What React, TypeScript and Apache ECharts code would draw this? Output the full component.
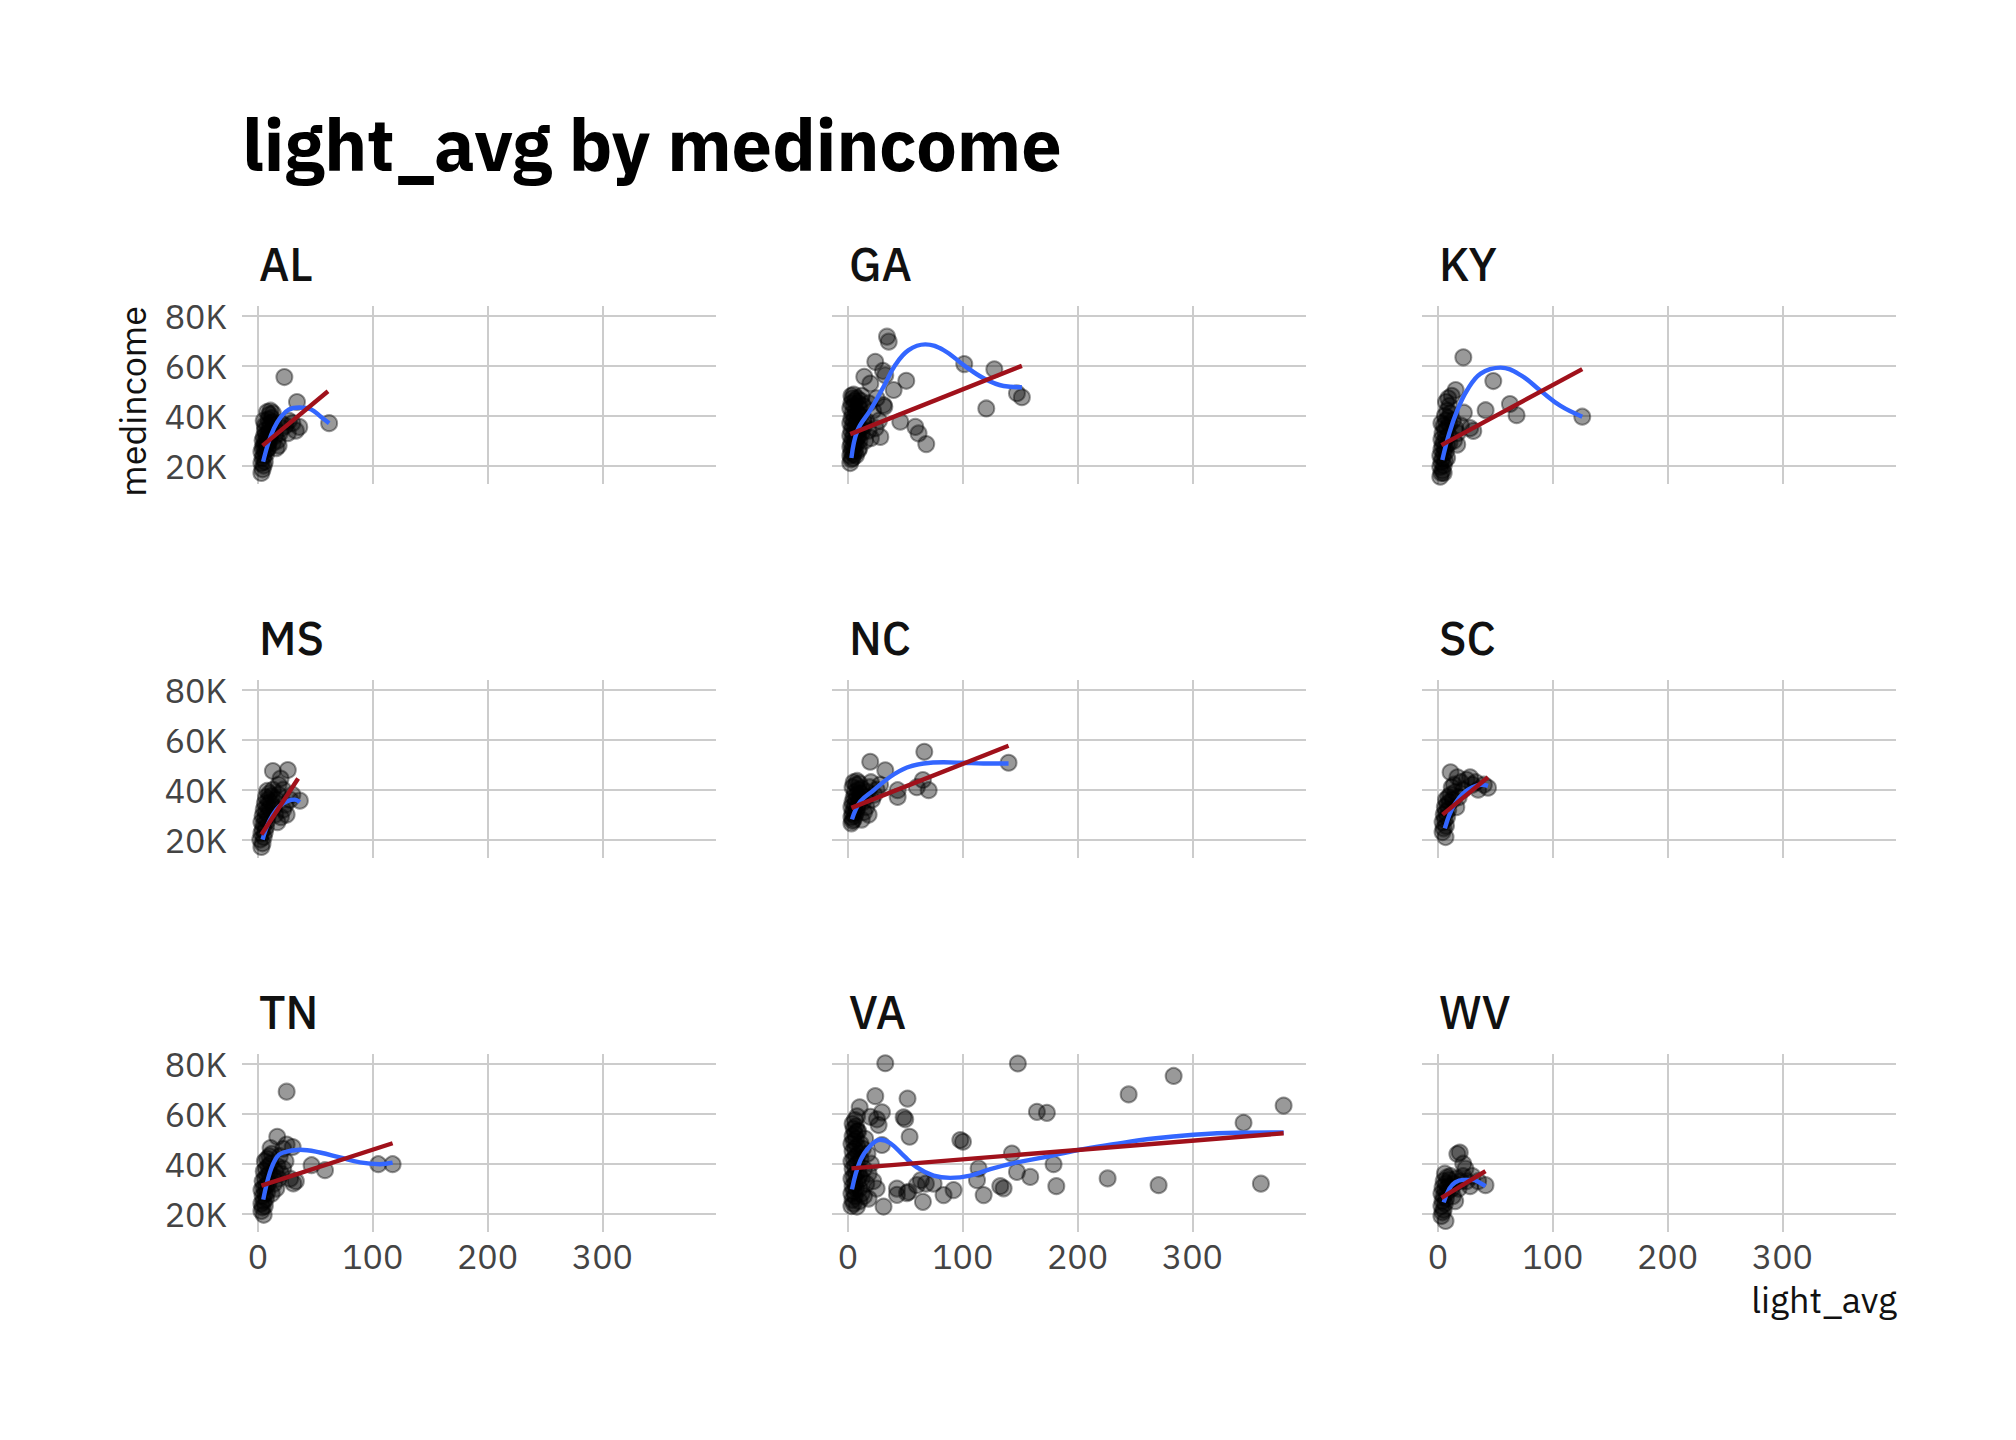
import React, { useEffect, useRef } from 'react';
import * as echarts from 'echarts';

// ---------------- data (x = light_avg, y = medincome in thousands) ----------------
const STATES = ['AL', 'GA', 'KY', 'MS', 'NC', 'SC', 'TN', 'VA', 'WV'];
const X_TICKS = [0, 100, 200, 300];
const Y_TICKS = [20, 40, 60, 80];
const X_MIN = -13.9;
const X_MAX = 399;
const Y_MIN = 12.6;
const Y_MAX = 84;

const AL_POINTS = [
  [3, 17], [4, 18.5], [5, 20], [3, 21], [6, 21.5], [4, 23], [5, 24], [7, 24.5], [3, 25.5], [6, 26],
  [8, 26.5], [4, 27], [5, 28], [7, 28.5], [9, 29], [6, 29.5], [10, 30], [8, 31], [5, 31.5], [11, 32],
  [7, 32.5], [9, 33], [12, 33.5], [6, 34], [10, 35], [8, 36], [11, 37], [13, 37.5], [9, 38.5], [12, 39],
  [10, 40.5], [8, 41.5], [11, 42], [13, 41], [14, 35], [15, 32], [17, 30], [19, 33], [21, 35], [24, 36],
  [27, 38], [30, 37], [23, 55.5], [34, 45.5], [36, 35.5], [33, 34], [62, 37], [16, 27], [13, 29], [18, 28],
  [20, 37], [26, 33], [4, 30], [6, 36], [9, 27], [5, 38],
];
const AL_LOESS = [[4.5, 21.5], [9, 29], [14, 35], [20, 39.5], [27, 42.5], [36, 43.3], [46, 42.6], [55, 39.5], [62, 37]];
const AL_LM = [[4, 28], [61, 49.8]];

const GA_POINTS = [
  [2, 21], [3, 22.5], [4, 23], [2, 24], [5, 24.5], [3, 25.5], [6, 26], [4, 27], [2, 27.5], [5, 28],
  [7, 28.5], [3, 29], [6, 30], [4, 31], [8, 31], [2, 32], [5, 32.5], [7, 33], [3, 34], [6, 35],
  [9, 35], [4, 36], [2, 37], [5, 38], [8, 38], [3, 39], [6, 40], [4, 41], [7, 42], [2, 43],
  [5, 44], [3, 45], [6, 46], [4, 47], [8, 47], [5, 48.5], [10, 30], [12, 33], [14, 36], [11, 40],
  [13, 44], [10, 27], [15, 30], [18, 34], [16, 38], [20, 31], [9, 45], [12, 48],
  [7, 24], [9, 26], [8, 41], [10, 43], [11, 35], [13, 39], [9, 32], [7, 37], [11, 46], [3, 48],
  [34, 71.7], [35.5, 69.7], [23.8, 61.6], [30.5, 58], [32.5, 56.2], [14.2, 55.6], [19.5, 52.9], [50.8, 54],
  [39.8, 50.3], [31, 44.3], [45.6, 37.6], [58.7, 35.5], [61.5, 32.9], [68.2, 28.6], [28.2, 31.5],
  [101.3, 60.7], [127.5, 58.6], [120.5, 42.9], [147.2, 49], [151.5, 47.4], [25, 47], [22, 42], [27, 38],
  [18, 45], [24, 35], [31.7, 43.6],
];
const GA_LOESS = [
  [3, 23], [8.4, 34.2], [19.5, 42.2], [31, 51.6], [41.2, 60.3], [52.8, 66.3], [67.4, 68.6], [83.3, 66.3],
  [100.8, 60.3], [118.2, 55], [135.6, 51.9], [151.5, 51.4],
];
const GA_LM = [[2, 32.6], [151.5, 60]];

const KY_POINTS = [
  [2, 15.5], [3, 17], [4, 18], [2, 19.5], [5, 20], [3, 21.5], [6, 22], [4, 23], [2, 24], [5, 25],
  [7, 25.5], [3, 26.5], [6, 27], [4, 28], [8, 28.5], [5, 29.5], [3, 30.5], [7, 31], [9, 32], [4, 33],
  [6, 34], [8, 35], [5, 36], [10, 36.5], [3, 37], [7, 38], [9, 39], [6, 40], [11, 41], [8, 42],
  [10, 44], [7, 45.5], [9, 47], [12, 48], [13, 38], [15, 35], [17, 33], [5, 17], [8, 23], [10, 29],
  [22.1, 63.4], [48.2, 53.9], [41.5, 42.2], [62.7, 44.7], [68.5, 40.2], [30.8, 33.9], [125.7, 39.6],
  [15.4, 50.3], [22.6, 41.2], [16.8, 28.4], [20, 36], [14, 30], [28, 35],
];
const KY_LOESS = [
  [3.8, 22.2], [9.6, 32.6], [16.8, 42.1], [25.5, 50.3], [37.2, 56.9], [54.6, 59.3], [72, 56.3],
  [89.4, 50], [106.8, 43.9], [125.7, 39.6],
];
const KY_LM = [[3, 28.2], [125.7, 58.7]];

const MS_POINTS = [
  [3, 17], [4, 18.5], [2, 20], [5, 21], [3, 22.5], [6, 23], [4, 24], [7, 25], [5, 26], [3, 27],
  [8, 27.5], [6, 28.5], [4, 29.5], [9, 30], [7, 31], [5, 32], [10, 32.5], [8, 33.5], [6, 34.5], [11, 35],
  [9, 36], [7, 37], [12, 37.5], [10, 38.5], [8, 39.5], [13, 40], [14, 33], [16, 36], [18, 38], [15, 30],
  [17, 27], [20, 29], [22, 32], [24, 34],
  [13, 47.5], [26, 47.9], [19.7, 44.5], [36.5, 35.6], [22, 40], [28, 36], [30, 38], [25, 30], [18, 42],
];
const MS_LOESS = [[4, 20], [8, 25.5], [13, 30], [19, 33.5], [26, 35.5], [32, 36], [36.5, 35]];
const MS_LM = [[3, 22], [35, 44.5]];

const NC_POINTS = [
  [3, 26.5], [4, 27.5], [5, 28], [3, 29], [6, 29.5], [4, 30.5], [7, 31], [5, 32], [8, 32.5], [3, 33],
  [6, 34], [9, 34.5], [4, 35], [7, 36], [10, 36.5], [5, 37], [8, 38], [11, 38.5], [6, 39], [9, 40],
  [12, 40.5], [4, 41], [7, 42], [10, 42.5], [5, 43], [8, 43.5], [13, 35], [15, 37], [17, 39], [19, 41],
  [14, 31], [16, 33], [18, 30], [21, 36], [23, 38], [20, 43], [12, 28],
  [66.5, 55.2], [19.4, 51.2], [32.5, 47.8], [43.3, 39.8], [43.3, 37.1], [65.3, 43.9], [70.3, 39.8],
  [139.9, 50.8], [60, 41], [25, 40], [28, 42],
];
const NC_LOESS = [
  [3.5, 28.1], [10.7, 35.2], [22.4, 39.8], [36.9, 45.2], [51.4, 48.9], [65.9, 50.5], [83.3, 51],
  [100.8, 50.8], [118, 50.5], [139.9, 50.5],
];
const NC_LM = [[3, 32.7], [139.9, 57.6]];

const SC_POINTS = [
  [6.6, 21], [4, 23], [5, 24.5], [7, 25.5], [4, 27], [6, 28], [8, 29], [5, 30], [7, 31], [9, 32],
  [6, 33], [8, 34], [10, 35], [7, 36], [9, 37], [11, 38], [13, 36], [15, 39], [12, 41], [14, 42],
  [11, 47], [17, 45], [20, 43], [22, 40], [25, 44], [28, 45], [30, 42], [33, 43], [35, 40], [43.6, 40.8],
  [40, 42], [18, 37], [16, 33],
];
const SC_LOESS = [[6, 24.5], [10, 30], [15, 34.5], [22, 38.5], [30, 41], [38, 42], [43.6, 41.5]];
const SC_LM = [[4, 30], [43.6, 45]];

const TN_POINTS = [
  [5, 19.5], [3, 21], [4, 22.5], [6, 23], [3, 24], [5, 25], [7, 26], [4, 27], [6, 28], [8, 28.5],
  [3, 29.5], [5, 30.5], [7, 31], [9, 32], [4, 33], [6, 34], [8, 35], [10, 36], [5, 37], [7, 38],
  [9, 39], [11, 40], [6, 41], [8, 42], [10, 43], [12, 44], [13, 35], [15, 37], [17, 39], [14, 32],
  [16, 30], [18, 34], [20, 36], [22, 38], [24, 41], [12, 28], [19, 43],
  [25, 68.9], [16.8, 50.8], [25, 47.7], [30.2, 46.7], [46.7, 39.4], [58.4, 37.4], [104.8, 39.8],
  [117.3, 39.8], [30.8, 32.1], [11, 46.3], [28, 34], [33, 33], [22, 46],
];
const TN_LOESS = [
  [4.6, 25.6], [10.4, 36.5], [16.2, 42.5], [22, 44.5], [36.6, 45.6], [54, 44.5], [71.4, 42.5],
  [88.8, 40.5], [106.3, 39.8], [117.3, 40.4],
];
const TN_LM = [[3, 31.2], [117.3, 48.2]];

const VA_POINTS = [
  [3, 23], [5, 24], [4, 25.5], [6, 27], [3, 28], [5, 29], [7, 30], [4, 31], [6, 32], [8, 33],
  [3, 34], [5, 35], [7, 36], [9, 37], [4, 38], [6, 39], [8, 40], [3, 41], [5, 42], [7, 43],
  [9, 44], [4, 45], [6, 46], [8, 47], [3, 48], [5, 49], [7, 50], [4, 51], [6, 52], [8, 53],
  [5, 54], [7, 55], [4, 56], [6, 57.5], [8, 59], [10, 30], [12, 34], [14, 38], [11, 42], [13, 46],
  [15, 50], [12, 28], [16, 32], [18, 36], [10, 25], [14, 27], [17, 44], [10, 35], [11, 48], [9, 53],
  [32.5, 80.3], [148, 80.2], [283.7, 75.2], [244.5, 67.8], [379.5, 63.3], [344.6, 56.4], [164.6, 60.8],
  [173.3, 60.4], [23.8, 67.1], [51.9, 66.1], [29.6, 60.6], [48.5, 58.6], [49.9, 57.8], [26.7, 55.5],
  [53.7, 50.8], [10.2, 62.6], [19.5, 58.8], [29.6, 47.5], [97.9, 49.5], [100.2, 48.8], [113.8, 38.1],
  [112.4, 33.4], [118.2, 27.4], [142.8, 44.1], [147.2, 36.7], [158.8, 34.7], [179.1, 39.8], [181.5, 31],
  [226.2, 34.1], [270.6, 31.4], [359.7, 32], [132.7, 31], [135.6, 30.1], [92, 29.4], [83.3, 27.4],
  [65.3, 24.7], [31, 22.8], [42.7, 30], [52.8, 28.7], [60, 31.4], [74.6, 32], [7.8, 22.8], [20, 40],
  [22, 33], [25, 30], [18, 26], [63.6, 33.4], [67.9, 32], [42.7, 27.5], [51.4, 28.2], [25.3, 57.8],
];
const VA_LOESS = [
  [3.5, 29.7], [10.7, 41.2], [19.5, 47.2], [28.2, 49.6], [36.9, 48.2], [48.5, 43.2], [60.1, 38.5],
  [74.6, 35.2], [89.1, 34.3], [106.5, 35.2], [124, 37.8], [147.2, 40.5], [170.4, 42.5], [199.4, 45.4],
  [231.3, 47.8], [266.1, 50.1], [301, 51.6], [338.7, 52.4], [379.5, 52.5],
];
const VA_LM = [[3, 38.1], [379.5, 52.2]];

const WV_POINTS = [
  [6.6, 17], [3, 19], [4, 20.5], [5, 21.5], [3, 23], [6, 24], [4, 25], [7, 26], [5, 27], [3, 28],
  [8, 28.5], [6, 29.5], [4, 30.5], [9, 31], [7, 32], [5, 33], [10, 33.5], [8, 34.5], [11, 35], [6, 36],
  [12, 30], [14, 32], [16, 34], [13, 27], [15, 25], [18, 30], [20, 33], [22, 35], [25, 33], [28, 31],
  [16.9, 43.9], [22, 40], [19, 44.5], [24, 38], [41.4, 31.4], [35, 33], [30, 35],
];
const WV_LOESS = [[5, 24.5], [10, 30], [15, 32.5], [22, 33.5], [30, 33.5], [36, 32.5], [41.4, 31]];
const WV_LM = [[3, 26.3], [41.4, 37]];

const POINTS = [AL_POINTS, GA_POINTS, KY_POINTS, MS_POINTS, NC_POINTS, SC_POINTS, TN_POINTS, VA_POINTS, WV_POINTS];
const LOESS = [AL_LOESS, GA_LOESS, KY_LOESS, MS_LOESS, NC_LOESS, SC_LOESS, TN_LOESS, VA_LOESS, WV_LOESS];
const LM = [AL_LM, GA_LM, KY_LM, MS_LM, NC_LM, SC_LM, TN_LM, VA_LM, WV_LM];

// ---------------- layout / style ----------------
const COL_LEFT = [242, 832, 1422];
const ROW_TOP = [306, 680, 1054];
const PANEL_W = 474;
const PANEL_H = 178;
const FONT = "'IBM Plex Sans', Roboto, 'Noto Sans', sans-serif";
const GRID_COLOR = '#cccccc';

export default function App() {
  const ref = useRef<HTMLDivElement>(null);

  useEffect(() => {
    document.body.style.margin = '0';
    if (!ref.current) return;
    const chart = echarts.init(ref.current, undefined, { renderer: 'svg' });

    const grids: any[] = [];
    const xAxes: any[] = [];
    const yAxes: any[] = [];
    const series: any[] = [];
    const graphics: any[] = [];

    STATES.forEach((st, i) => {
      const r = Math.floor(i / 3);
      const c = i % 3;
      grids.push({
        left: COL_LEFT[c],
        top: ROW_TOP[r],
        width: PANEL_W,
        height: PANEL_H,
        containLabel: false,
        outerBoundsMode: 'none',
      });
      xAxes.push({
        type: 'value',
        gridIndex: i,
        min: X_MIN,
        max: X_MAX,
        axisLine: { show: false },
        axisTick: { show: false, customValues: X_TICKS },
        axisLabel: {
          show: r === 2,
          customValues: X_TICKS,
          margin: 7,
          fontSize: 34,
          fontFamily: FONT,
          color: '#444444',
        },
        splitLine: { show: true, lineStyle: { color: GRID_COLOR, width: 2 } },
        minorSplitLine: { show: false },
      });
      yAxes.push({
        type: 'value',
        gridIndex: i,
        min: Y_MIN,
        max: Y_MAX,
        axisLine: { show: false },
        axisTick: { show: false, customValues: Y_TICKS },
        axisLabel: {
          show: c === 0,
          customValues: Y_TICKS,
          margin: 15,
          fontSize: 34,
          fontFamily: FONT,
          color: '#444444',
          formatter: (v: number) => `${v}K`,
        },
        splitLine: { show: true, lineStyle: { color: GRID_COLOR, width: 2 } },
      });
      series.push({
        type: 'scatter',
        xAxisIndex: i,
        yAxisIndex: i,
        data: POINTS[i],
        symbol: 'circle',
        symbolSize: 16,
        itemStyle: { color: 'rgba(0,0,0,0.5)', borderColor: 'rgba(0,0,0,0.5)', borderWidth: 2 },
        z: 2,
        silent: true,
      });
      series.push({
        type: 'line',
        xAxisIndex: i,
        yAxisIndex: i,
        data: LOESS[i],
        smooth: 0.4,
        showSymbol: false,
        symbol: 'none',
        lineStyle: { color: '#3366FF', width: 4.4 },
        z: 3,
        silent: true,
      });
      series.push({
        type: 'line',
        xAxisIndex: i,
        yAxisIndex: i,
        data: LM[i],
        showSymbol: false,
        symbol: 'none',
        lineStyle: { color: '#A0111B', width: 4.4 },
        z: 4,
        silent: true,
      });
      graphics.push({
        type: 'text',
        x: COL_LEFT[c] + 17,
        y: ROW_TOP[r] - 42,
        style: {
          text: st,
          fontSize: 46,
          fontWeight: 500,
          fontFamily: FONT,
          fill: '#111111',
          textAlign: 'left',
          textVerticalAlign: 'middle',
        },
      });
    });

    graphics.push({
      type: 'text',
      x: 242,
      y: 144,
      style: {
        text: 'light_avg by medincome',
        fontSize: 72,
        fontWeight: 'bold',
        fontFamily: FONT,
        fill: '#000000',
        textAlign: 'left',
        textVerticalAlign: 'middle',
      },
    });
    graphics.push({
      type: 'text',
      x: 1897,
      y: 1299,
      style: {
        text: 'light_avg',
        fontSize: 36,
        fontFamily: FONT,
        fill: '#111111',
        textAlign: 'right',
        textVerticalAlign: 'middle',
      },
    });
    graphics.push({
      type: 'text',
      x: 132,
      y: 306,
      rotation: Math.PI / 2,
      style: {
        text: 'medincome',
        fontSize: 36,
        fontFamily: FONT,
        fill: '#111111',
        textAlign: 'right',
        textVerticalAlign: 'middle',
      },
    });

    chart.setOption({
      animation: false,
      backgroundColor: '#ffffff',
      grid: grids,
      xAxis: xAxes,
      yAxis: yAxes,
      series,
      graphic: graphics,
    });

    return () => chart.dispose();
  }, []);

  return <div ref={ref} style={{ width: 2016, height: 1440 }} />;
}
